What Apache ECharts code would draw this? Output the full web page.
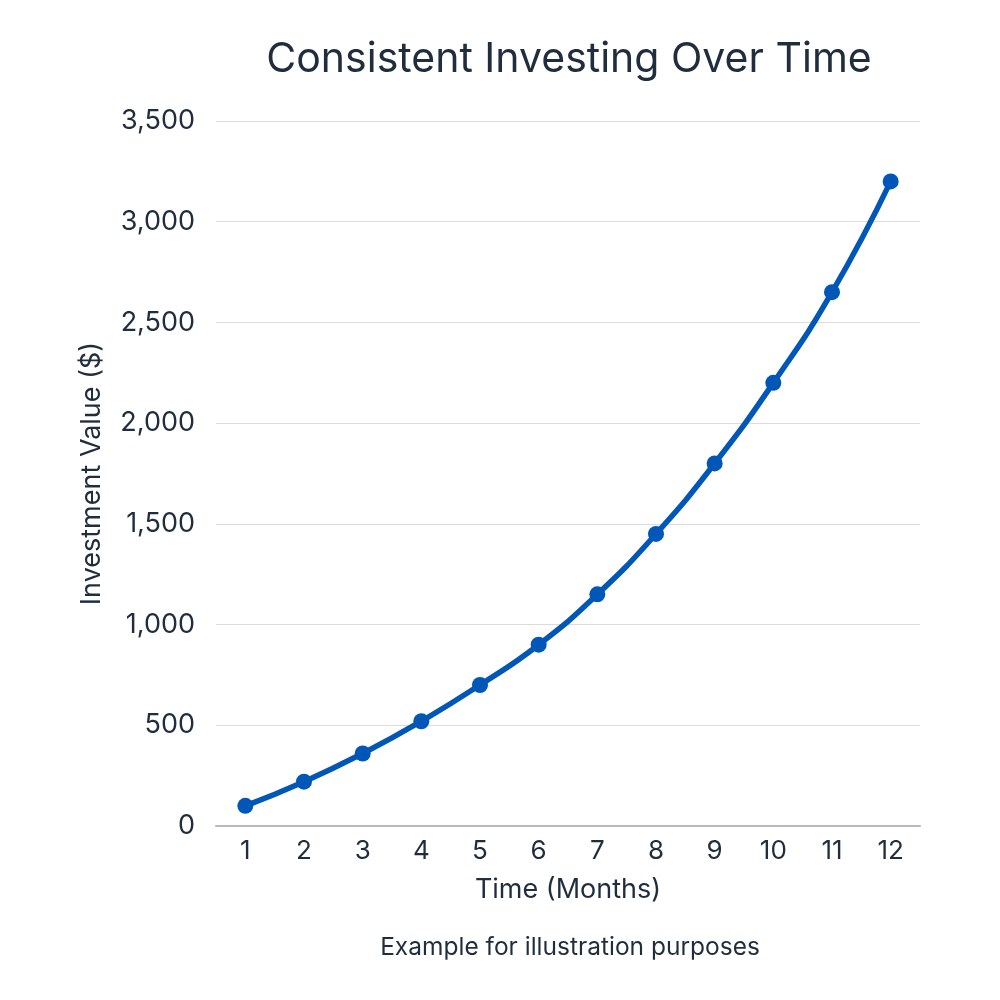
<!DOCTYPE html>
<html>
<head>
<meta charset="utf-8">
<script src="https://cdn.jsdelivr.net/npm/echarts@6/dist/echarts.min.js"></script>
<style>
  html, body { margin: 0; padding: 0; background: #fff; }
  #main { width: 1000px; height: 1000px; }
</style>
</head>
<body>
<div id="main"></div>
<script>
// data
var months = ['1', '2', '3', '4', '5', '6', '7', '8', '9', '10', '11', '12'];
var values = [100, 220, 360, 520, 700, 900, 1150, 1450, 1800, 2200, 2650, 3200];

var textColor = '#1f2d3d';
var lineColor = '#0057b8';

var chart = echarts.init(document.getElementById('main'));

var option = {
  backgroundColor: '#ffffff',
  textStyle: { fontFamily: 'Inter' },
  title: [
    {
      text: 'Consistent Investing Over Time',
      left: 564,
      top: 34,
      textAlign: 'center',
      textStyle: { fontSize: 41, fontWeight: 'normal', color: textColor, fontFamily: 'Inter' }
    },
    {
      text: 'Example for illustration purposes',
      left: 565,
      top: 930,
      textAlign: 'center',
      textStyle: { fontSize: 24.5, fontWeight: 'normal', color: textColor, fontFamily: 'Inter' }
    }
  ],
  grid: { left: 216, right: 80, top: 121, bottom: 174 },
  xAxis: {
    type: 'category',
    data: months,
    boundaryGap: true,
    name: 'Time (Months)',
    nameLocation: 'middle',
    nameGap: 50,
    nameTextStyle: { fontSize: 27, color: textColor },
    axisLine: { lineStyle: { color: '#b5bac1', width: 2 } },
    axisTick: { show: false },
    axisLabel: { fontSize: 26, color: textColor, margin: 12 }
  },
  yAxis: {
    type: 'value',
    min: 0,
    max: 3500,
    interval: 500,
    name: 'Investment Value ($)',
    nameLocation: 'middle',
    nameGap: 111,
    nameTextStyle: { fontSize: 27, color: textColor },
    axisLine: { show: false },
    axisTick: { show: false },
    splitLine: { lineStyle: { color: '#dcdcdc', width: 1 } },
    axisLabel: {
      fontSize: 27,
      color: textColor,
      margin: 21,
      formatter: function (v) { return v.toLocaleString('en-US'); }
    }
  },
  series: [
    {
      type: 'line',
      data: values,
      smooth: true,
      symbol: 'circle',
      symbolSize: 16,
      lineStyle: { color: lineColor, width: 5.5 },
      itemStyle: { color: lineColor },
      animation: false
    }
  ]
};

chart.setOption(option);
</script>
</body>
</html>
